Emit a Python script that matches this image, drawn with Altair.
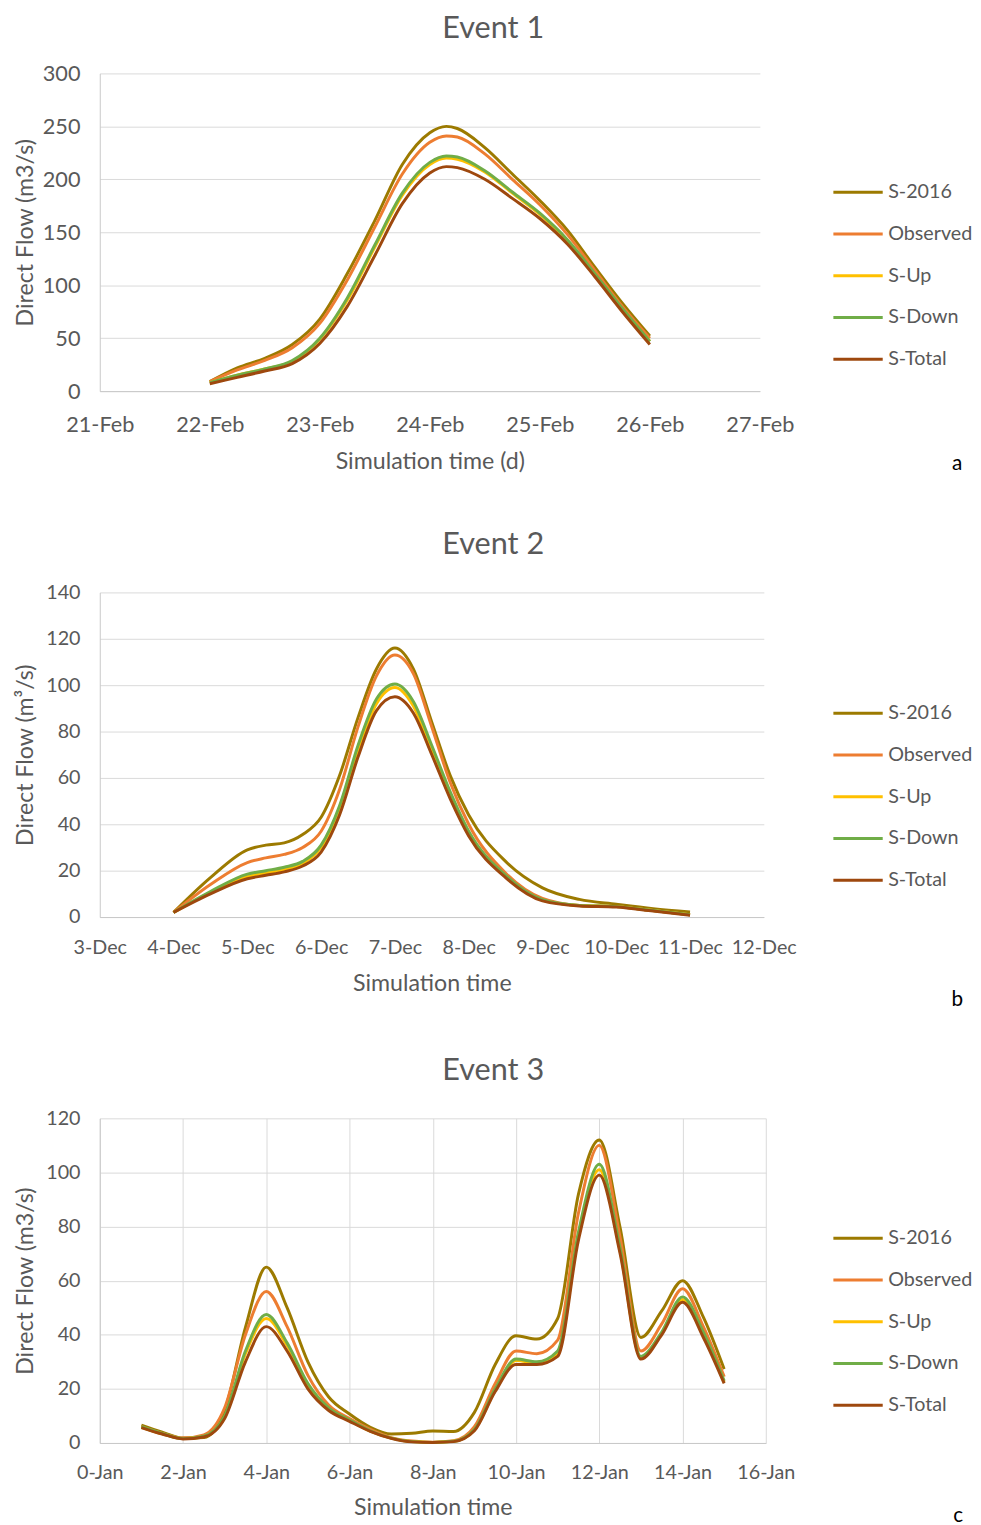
import altair as alt
import pandas as pd

SERIES = ["S-2016", "Observed", "S-Up", "S-Down", "S-Total"]
COLORS = ["#9C7A00", "#ED7D31", "#FFC000", "#70AD47", "#9E480E"]
FONT = "Lato"
TEXT = "#595959"
GRID = "#D9D9D9"
DOMAIN = "#C8C8C8"

# ---------------- Event 1 (February, day of month) ----------------
e1_time = [22, 22.25, 22.5, 22.75, 23, 23.25, 23.5, 23.75, 24, 24.15, 24.25,
           24.5, 24.75, 25, 25.25, 25.5, 25.75, 26]
e1_s2016 = [9, 22, 31, 44, 68, 111, 161, 214, 244, 250, 248, 230, 205, 180, 152, 117, 83, 52]
e1_obs = [9, 20, 29, 41, 64, 105, 155, 205, 235, 241, 240, 224, 200, 176, 148, 114, 80, 50]
e1_up = [8, 15, 21, 28, 49, 86, 136, 185, 214, 220, 219, 207, 187, 167, 142, 110, 77, 47]
e1_down = [8, 15, 21, 29, 50, 88, 138, 187, 216, 222, 221, 208, 188, 168, 143, 111, 78, 47]
e1_total = [7, 13, 19, 26, 45, 80, 128, 177, 206, 212, 211, 200, 182, 163, 139, 108, 75, 44]

# ---------------- Event 2 (December, day of month) ----------------
e2_time = [4, 4.5, 5, 5.25, 5.5, 5.75, 6, 6.25, 6.5, 6.75, 7, 7.25, 7.5, 7.75,
           8, 8.5, 9, 9.5, 10, 10.5, 11]
e2_s2016 = [2, 17, 29, 31, 32, 35.6, 43, 61, 86, 107, 116, 107, 84, 61, 44, 24, 12.6, 7.6, 5.5, 3.6, 2.2]
e2_obs = [2, 14, 23.5, 25.5, 27, 30, 37, 55, 82, 104, 113, 105, 82, 58, 40, 19, 8, 5, 4.5, 2.8, 1.0]
e2_up = [2, 10.5, 17.5, 19, 20.5, 23, 30, 46, 72, 92, 99, 91, 72, 53, 36, 17.5, 7.3, 5, 4.5, 2.8, 1.0]
e2_down = [2, 11, 18.5, 20, 21.5, 24, 31, 48, 74, 94, 100.5, 93, 74, 54, 37, 18, 7.5, 5, 4.5, 2.8, 1.0]
e2_total = [2, 10, 16.5, 18, 19.5, 22, 28, 44, 69, 89, 95, 88, 70, 51, 35, 17, 7, 4.8, 4.3, 2.6, 0.8]

# ---------------- Event 3 (January, day of month) ----------------
e3_time = [1, 1.5, 2, 2.5, 3, 3.5, 4, 4.5, 5, 5.5, 6, 6.5, 7, 7.5, 8, 8.5, 9,
           9.5, 10, 10.5, 11, 11.5, 12, 12.5, 13, 13.5, 14, 14.5, 15]
e3_s2016 = [6.6, 4, 1.8, 2, 12, 42.7, 65, 50, 30, 17, 10.7, 5.8, 3.3, 3.6, 4.4, 4.2, 11.3,
            29, 39.6, 38.4, 46, 92, 112, 79.6, 39, 48.8, 60, 46.5, 27.3]
e3_obs = [6, 3.5, 1.8, 3, 13, 40, 56, 43, 25, 14, 9, 5, 2, 0.7, 0.3, 0.8, 6,
          22, 34, 33, 38, 85, 110, 76, 34, 44, 57, 43, 24.5]
e3_up = [5.8, 3.4, 1.6, 2.4, 9.5, 33, 46, 36, 21.5, 12.5, 8.3, 4.4, 1.8, 0.5, 0.2, 0.6, 4.8,
         19.5, 30.5, 29.5, 33, 77, 101, 71, 31.5, 40.5, 53, 40, 22.5]
e3_down = [6, 3.5, 1.6, 2.5, 10, 34, 47.5, 37, 22, 13, 8.5, 4.5, 1.8, 0.5, 0.2, 0.6, 5,
           20, 31, 30, 34, 78, 103, 72, 32, 41, 54, 41, 23]
e3_total = [5.7, 3.3, 1.5, 2.2, 9, 30, 43, 34, 20, 12, 8, 4.3, 1.7, 0.4, 0.2, 0.5, 4.5,
            19, 29, 29, 32, 75, 99, 70, 31, 40, 52, 39, 22]

TITLES = ["Event 1", "Event 2", "Event 3"]
LETTERS = ["a", "b", "c"]
Y_TITLES = ["Direct Flow (m3/s)", "Direct Flow (m\u00b3/s)", "Direct Flow (m3/s)"]
X_TITLES = ["Simulation time (d)", "Simulation time", "Simulation time"]


def long_df(times, series_vals):
    rows = []
    for name, vals in zip(SERIES, series_vals):
        for t, v in zip(times, vals):
            rows.append({"t": t, "flow": v, "series": name})
    return pd.DataFrame(rows)


def panel(df, title, ytitle, xtitle, letter, xdom, xstep, month, ydom, ystep,
          width, height, xgrid, label_size, lab_pad, title_pad, letter_xy, legend_y,
          title_offset):
    xvals = list(range(xdom[0], xdom[1] + 1, xstep))
    yvals = list(range(ydom[0], ydom[1] + 1, ystep))
    lines = alt.Chart(df).mark_line(strokeWidth=3, interpolate="monotone").encode(
        x=alt.X("t:Q", scale=alt.Scale(domain=xdom, nice=False, zero=False),
                axis=alt.Axis(values=xvals, labelExpr=f"datum.value + '-{month}'",
                              title=xtitle, grid=xgrid, gridColor=GRID, ticks=False,
                              domainColor=DOMAIN, labelFontSize=label_size,
                              labelPadding=lab_pad, titlePadding=title_pad,
                              labelFont=FONT, titleFont=FONT, labelColor=TEXT,
                              titleColor=TEXT, titleFontSize=23.5,
                              titleFontWeight="normal", labelFlush=False)),
        y=alt.Y("flow:Q", scale=alt.Scale(domain=ydom, nice=False),
                axis=alt.Axis(values=yvals, title=ytitle, grid=True, gridColor=GRID,
                              ticks=False, domainColor=DOMAIN, labelFontSize=label_size,
                              labelPadding=20, titlePadding=3.5, minExtent=60, maxExtent=60,
                              labelFont=FONT, titleFont=FONT, labelColor=TEXT,
                              titleColor=TEXT, titleFontSize=23.5,
                              titleFontWeight="normal")),
        color=alt.Color("series:N", sort=SERIES,
                        scale=alt.Scale(domain=SERIES, range=COLORS),
                        legend=alt.Legend(title=None, orient="none", legendX=742,
                                          legendY=legend_y, symbolType="stroke",
                                          symbolSize=2500, symbolStrokeWidth=3,
                                          labelFontSize=20, labelFont=FONT,
                                          labelColor=TEXT, labelOffset=4,
                                          rowPadding=5.3)),
    )
    lab = alt.Chart(pd.DataFrame({"label": [letter]})).mark_text(
        font=FONT, fontSize=21, color="#000000", align="center", baseline="middle"
    ).encode(x=alt.value(letter_xy[0]), y=alt.value(letter_xy[1]), text="label:N")
    return alt.layer(lines, lab).properties(
        width=width, height=height,
        title=alt.TitleParams(title, font=FONT, fontSize=31, color=TEXT,
                              fontWeight="normal", anchor="middle", frame="bounds",
                              offset=title_offset),
    ).resolve_legend(color="independent")


p1 = panel(long_df(e1_time, [e1_s2016, e1_obs, e1_up, e1_down, e1_total]),
           TITLES[0], Y_TITLES[0], X_TITLES[0], LETTERS[0], [21, 27], 1, "Feb",
           [0, 300], 50, 669, 322, False, 22, 24, 14, (869, 396), 94, 18)
p2 = panel(long_df(e2_time, [e2_s2016, e2_obs, e2_up, e2_down, e2_total]),
           TITLES[1], Y_TITLES[1], X_TITLES[1], LETTERS[1], [3, 12], 1, "Dec",
           [0, 140], 20, 673, 329, False, 20, 21, 14, (869, 413), 96, 22)
p3 = panel(long_df(e3_time, [e3_s2016, e3_obs, e3_up, e3_down, e3_total]),
           TITLES[2], Y_TITLES[2], X_TITLES[2], LETTERS[2], [0, 16], 2, "Jan",
           [0, 120], 20, 675, 329, True, 20, 20, 14, (870, 403), 95, 22)

chart = alt.vconcat(p1, p2, p3, spacing=204, bounds="flush").resolve_scale(
    color="independent", x="independent", y="independent"
).resolve_legend(color="independent").properties(
    padding={"left": 5, "top": -5, "right": 0, "bottom": 0}
).configure_view(stroke=None)

chart.save("out.html", embed_options={"renderer": "svg", "actions": False})
